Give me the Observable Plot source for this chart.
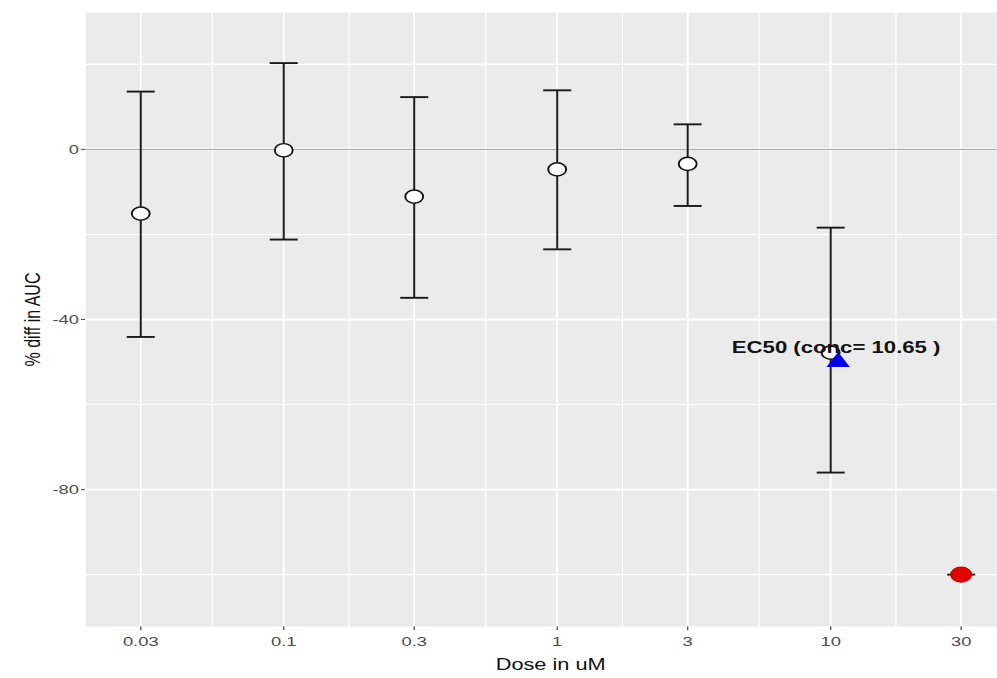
<!DOCTYPE html>
<html>
<head>
<meta charset="utf-8">
<script src="https://cdn.jsdelivr.net/npm/d3@7"></script>
<script src="https://cdn.jsdelivr.net/npm/@observablehq/plot@0.6"></script>
<style>
  html, body { margin: 0; padding: 0; background: #ffffff; }
  #chart svg { display: block; }
</style>
</head>
<body>
<div id="chart"></div>
<script>
// ---- data ----
const doses      = [0.03, 0.1, 0.3, 1, 3, 10, 30];
const doseLabels = ["0.03", "0.1", "0.3", "1", "3", "10", "30"];
const meanDiff   = [-15.1, -0.2, -11.1, -4.7, -3.4, -47.8, -100];
const upperCI    = [13.6, 20.3, 12.3, 13.9, 5.9, -18.4, -100];
const lowerCI    = [-44.1, -21.2, -34.9, -23.5, -13.3, -76.0, -100];
const fullEffect = [false, false, false, false, false, false, true];
const yTicks      = [0, -40, -80];
const yTickLabels = ["0", "-40", "-80"];
const yMinorTicks = [20, -20, -60, -100];
const zeroLine    = [0];
const ec50Conc    = [10.65];
const ec50Resp    = [-50];
const ec50Text    = ["EC50 (conc= 10.65 )"];
const xTitle = "Dose in uM";
const yTitle = "% diff in AUC";

// ---- tables built from the arrays ----
const rows = doses.map((d, i) => ({dose: d, mean: meanDiff[i], lo: lowerCI[i], hi: upperCI[i], full: fullEffect[i]}));
const openRows = rows.filter(r => !r.full);
const fullRows = rows.filter(r => r.full);
const ec50 = ec50Conc.map((c, i) => ({conc: c, resp: ec50Resp[i], text: ec50Text[i]}));
const xMinor = d3.pairs(doses, (a, b) => Math.sqrt(a * b));

// the reference is horizontally stretched; draw narrow, then stretch
const S = 1.36;
const W = 997, H = 678;
const W0 = W / S;

const cap = {draw(ctx) { ctx.moveTo(-10.3, 0); ctx.lineTo(10.3, 0); }};
const tri = {draw(ctx) { ctx.moveTo(0, -10); ctx.lineTo(8.6, 5); ctx.lineTo(-8.6, 5); ctx.closePath(); }};

const chart = Plot.plot({
  width: W0,
  height: H,
  marginLeft: 85 / S,
  marginRight: 0,
  marginTop: 12,
  marginBottom: 52,
  style: {fontFamily: "'Liberation Sans', Arial, sans-serif", fontSize: "13.5px", color: "#4D4D4D", background: "white"},
  x: {type: "log", domain: [0.01887, 40.8], ticks: doses, tickFormat: d => doseLabels[doses.indexOf(d)] ?? String(d), tickSize: 4, tickPadding: 6, label: null},
  y: {domain: [-112.2, 32.2], ticks: yTicks, tickFormat: d => yTickLabels[yTicks.indexOf(d)] ?? String(d), tickSize: 4 / S, tickPadding: 2, label: null},
  marks: [
    Plot.frame({fill: "#EBEBEB", stroke: null}),
    Plot.ruleY(yMinorTicks, {stroke: "white", strokeWidth: 1.1}),
    Plot.ruleX(xMinor, {stroke: "white", strokeWidth: 0.85}),
    Plot.ruleY(yTicks, {stroke: "white", strokeWidth: 1.9}),
    Plot.ruleX(doses, {stroke: "white", strokeWidth: 1.35}),
    Plot.ruleY(zeroLine, {stroke: "#AAAAAA", strokeWidth: 1}),
    Plot.ruleX(rows, {x: "dose", y1: "lo", y2: "hi", stroke: "#1a1a1a", strokeWidth: 1.45}),
    Plot.dot(openRows, {x: "dose", y: "hi", symbol: cap, fill: "none", stroke: "#1a1a1a", strokeWidth: 1.9}),
    Plot.dot(openRows, {x: "dose", y: "lo", symbol: cap, fill: "none", stroke: "#1a1a1a", strokeWidth: 1.9}),
    Plot.dot(openRows, {x: "dose", y: "mean", r: 6.6, fill: "white", stroke: "#111", strokeWidth: 1.4}),
    Plot.dot(fullRows, {x: "dose", y: "hi", symbol: cap, fill: "none", stroke: "#1a1a1a", strokeWidth: 1.9}),
    Plot.dot(fullRows, {x: "dose", y: "mean", r: 7.6, fill: "#E50000", stroke: "#B40000", strokeWidth: 1}),
    Plot.dot(ec50, {x: "conc", y: "resp", symbol: tri, fill: "#0000EE", stroke: null}),
    Plot.text(ec50, {x: "conc", y: "resp", text: "text", dy: -14, dx: -1.5, textAnchor: "middle", fontSize: 16.3, fontWeight: "bold", fill: "#111"}),
    Plot.text([xTitle], {frameAnchor: "bottom", dy: 38, dx: 6.6, textAnchor: "middle", lineAnchor: "middle", fontSize: 16, fill: "#111"}),
    Plot.text([yTitle], {frameAnchor: "left", dx: -39, rotate: -90, textAnchor: "middle", lineAnchor: "middle", fontSize: 16, fill: "#111"})
  ]
});

chart.setAttribute("width", W);
chart.setAttribute("height", H);
chart.setAttribute("viewBox", `0 0 ${W0} ${H}`);
chart.setAttribute("preserveAspectRatio", "none");
chart.style.width = W + "px";
chart.style.height = H + "px";
chart.style.maxWidth = "none";
document.getElementById("chart").appendChild(chart);
</script>
</body>
</html>
